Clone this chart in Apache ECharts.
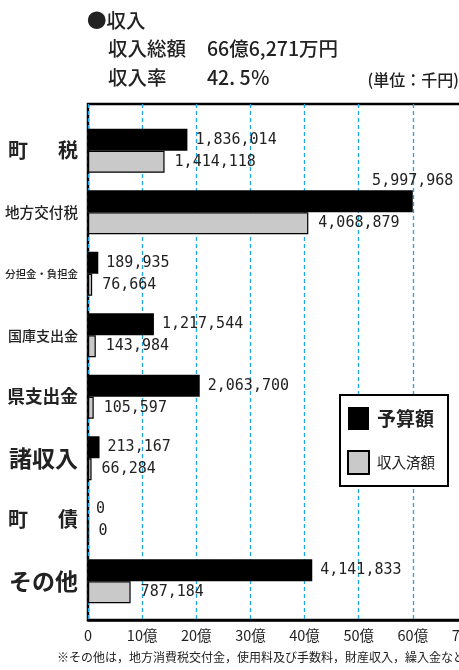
<html>
<head>
    <meta http-equiv="Content-Type" content="text/html; charset=utf-8" />
    <title>収入</title>
    <style type="text/css">
        * {
            margin: 0;
            padding: 0
        }

        html,
        body {
            width: 100%;
            height: 100%;
            background: #fff;
        }

        #chart {
            width: 459px;
            height: 670px;
        }
    </style>
</head>
<body>
    <div id="chart"></div>
    <script src="https://cdn.jsdelivr.net/npm/echarts@6/dist/echarts.min.js"></script>
    <script>
        // 単位：千円
        const categories = ['町税', '地方交付税', '分担金・負担金', '国庫支出金', '県支出金', '諸収入', '町債', 'その他'];
        const budget = [1836014, 5997968, 189935, 1217544, 2063700, 213167, 0, 4141833];
        const received = [1414118, 4068879, 76664, 143984, 105597, 66284, 0, 787184];
        const xTicks = [0, 1000000, 2000000, 3000000, 4000000, 5000000, 6000000, 7000000];
        const seriesNames = ['予算額', '収入済額'];

        const ink = '#222';
        const cjk = '"Noto Sans CJK JP", "Noto Sans", sans-serif';
        const mono = '"DejaVu Sans Mono", monospace';

        // 軸ラベルの見た目（項目ごとに大きさが違う）
        const catStyle = {
            '町税': '{t|町}{sp|　}{t|税}',
            '地方交付税': '{s15|地方交付税}',
            '分担金・負担金': '{s10|分担金・負担金}',
            '国庫支出金': '{s14|国庫支出金}',
            '県支出金': '{b17|県支出金}',
            '諸収入': '{b23|諸収入}',
            '町債': '{t|町}{sp|　}{t|債}',
            'その他': '{b23|その他}'
        };

        const fmt = v => v.toLocaleString('en-US');

        const chart = echarts.init(document.getElementById('chart'), null, { renderer: 'canvas' });

        // 最大の予算額だけラベルを棒の上に置く
        const budgetData = budget.map(v => {
            if (v === Math.max(...budget)) {
                return {
                    value: v,
                    label: { position: ['100%', -2], align: 'center', verticalAlign: 'bottom', distance: 0 }
                };
            }
            return v;
        });

        const head = (size) => ({ fill: ink, font: '500 ' + size + 'px ' + cjk });

        const option = {
            animation: false,
            textStyle: { fontFamily: cjk, color: ink },
            graphic: [
                { type: 'text', left: 87, top: 11, style: Object.assign({ text: '●収入' }, head(19.5)) },
                { type: 'text', left: 108, top: 39, style: Object.assign({ text: '収入総額' }, head(19.5)) },
                { type: 'text', left: 207, top: 39, style: Object.assign({ text: '66億6,271万円' }, head(19.5)) },
                { type: 'text', left: 108, top: 68, style: Object.assign({ text: '収入率' }, head(19.5)) },
                { type: 'text', left: 207, top: 68, style: Object.assign({ text: '42. 5％' }, head(19.5)) },
                { type: 'text', right: 0, top: 72, style: Object.assign({ text: '(単位：千円)' }, head(16)) },
                { type: 'text', left: 57, top: 651, style: { text: '※その他は，地方消費税交付金，使用料及び手数料，財産収入，繰入金など', fill: ink, font: '12px ' + cjk } }
            ],
            legend: {
                orient: 'vertical',
                left: 340,
                top: 395,
                padding: [12, 13, 11, 7],
                itemGap: 20,
                itemWidth: 21,
                itemHeight: 23,
                icon: 'rect',
                backgroundColor: '#fff',
                borderColor: '#000',
                borderWidth: 2,
                data: seriesNames,
                formatter: name => name === seriesNames[0] ? '{a|' + name + '}' : '{b|' + name + '}',
                textStyle: {
                    padding: [0, 0, 0, 3],
                    rich: {
                        a: { fontSize: 19, fontWeight: 'bold', color: ink, fontFamily: cjk },
                        b: { fontSize: 14.5, color: ink, fontFamily: cjk }
                    }
                }
            },
            grid: [
                { left: 88, width: 379, top: 104, bottom: 50, outerBoundsMode: 'none', show: true, borderColor: '#000', borderWidth: 2.5, backgroundColor: 'transparent' },
                { left: 88, width: 379, top: 120, height: 492, outerBoundsMode: 'none' }
            ],
            xAxis: [
                {
                    gridIndex: 0,
                    type: 'value',
                    min: xTicks[0],
                    max: xTicks[xTicks.length - 1],
                    interval: xTicks[1] - xTicks[0],
                    axisLine: { show: true, lineStyle: { color: '#000', width: 2.5 } },
                    axisTick: { show: false },
                    splitLine: { show: true, lineStyle: { color: '#1ea5e8', width: 1.3, type: [4, 3] } },
                    axisLabel: {
                        margin: 8,
                        fontSize: 14.5,
                        color: ink,
                        fontFamily: cjk,
                        formatter: v => v === 0 ? '0' : (v / 100000) + '億'
                    }
                },
                { gridIndex: 1, type: 'value', min: xTicks[0], max: xTicks[xTicks.length - 1], show: false }
            ],
            yAxis: [
                { gridIndex: 0, type: 'value', show: false },
                {
                    gridIndex: 1,
                    type: 'category',
                    inverse: true,
                    data: categories,
                    axisLine: { show: false },
                    axisTick: { show: false },
                    splitLine: { show: false },
                    axisLabel: {
                        margin: 10,
                        color: ink,
                        formatter: v => catStyle[v],
                        rich: {
                            t: { fontSize: 20, fontWeight: 'bold', color: ink, fontFamily: cjk },
                            sp: { fontSize: 30, fontFamily: cjk },
                            s15: { fontSize: 14.6, fontWeight: 500, color: ink, fontFamily: cjk },
                            s10: { fontSize: 10.4, fontWeight: 500, color: ink, fontFamily: cjk },
                            s14: { fontSize: 14, fontWeight: 500, color: ink, fontFamily: cjk },
                            b17: { fontSize: 17.7, fontWeight: 'bold', color: ink, fontFamily: cjk },
                            b23: { fontSize: 23, fontWeight: 'bold', color: ink, fontFamily: cjk }
                        }
                    }
                }
            ],
            series: [
                {
                    name: seriesNames[0],
                    type: 'bar',
                    xAxisIndex: 1,
                    yAxisIndex: 1,
                    barWidth: 22,
                    barGap: '0%',
                    data: budgetData,
                    itemStyle: { color: '#000' },
                    label: {
                        show: true,
                        position: 'right',
                        distance: 8,
                        color: ink,
                        fontFamily: mono,
                        fontSize: 15,
                        formatter: p => fmt(p.value)
                    }
                },
                {
                    name: seriesNames[1],
                    type: 'bar',
                    xAxisIndex: 1,
                    yAxisIndex: 1,
                    barWidth: 22,
                    barGap: '0%',
                    data: received,
                    itemStyle: { color: '#c9c9c9', borderColor: '#000', borderWidth: 1.2 },
                    label: {
                        show: true,
                        position: 'right',
                        distance: 10,
                        color: ink,
                        fontFamily: mono,
                        fontSize: 15,
                        formatter: p => fmt(p.value)
                    }
                }
            ]
        };
        chart.setOption(option);
    </script>
</body>
</html>
